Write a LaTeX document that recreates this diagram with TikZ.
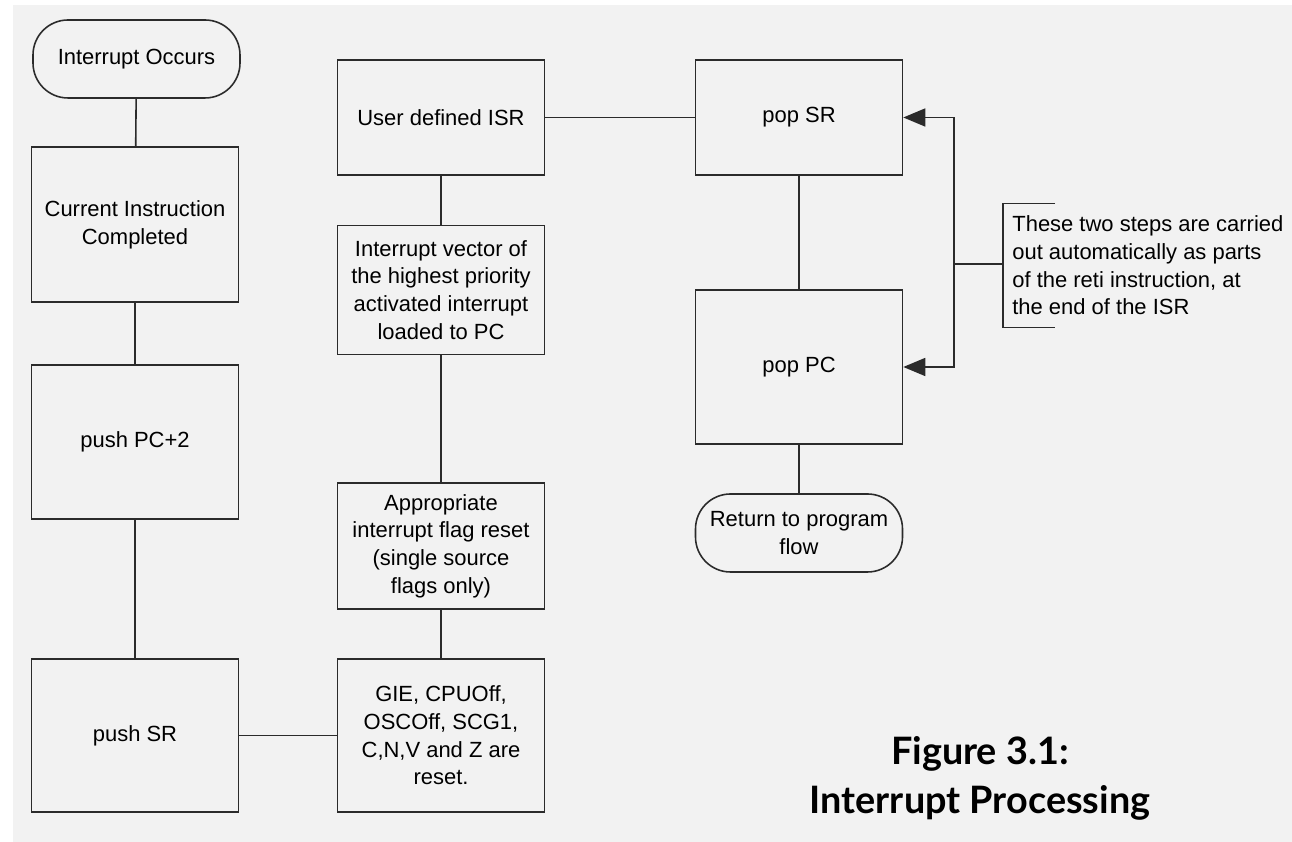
\documentclass[tikz,border=0pt]{standalone}
\usepackage{fontspec}
\setmainfont{Liberation Sans}
\newfontfamily\capfont{Lato}
\usepackage{tikz}
\usetikzlibrary{arrows.meta}
\usepackage{xcolor}
\definecolor{paper}{HTML}{F2F2F2}
\definecolor{ink}{HTML}{2B2B2B}

\begin{document}
\begin{tikzpicture}[>={Triangle[length=4.4mm,width=3.6mm]},line join=miter,
  font=\fontsize{12.5}{15.8}\selectfont,
  box/.style={draw=ink,line width=0.9pt,align=center,minimum width=4.14cm,inner sep=2pt},
  term/.style={box,rounded corners=0.7cm,minimum height=1.56cm},
  link/.style={draw=ink,line width=0.9pt}]
\useasboundingbox (0,0) rectangle (25.84,16.84);
\fill[paper] (0.26,0) rectangle (25.84,16.74);
% left column
\node[term] (occurs) at (2.73,15.66) {Interrupt Occurs};
\node[box,minimum height=3.10cm] (current) at (2.70,12.35) {Current Instruction\\Completed};
\node[box,minimum height=3.08cm] (pushpc) at (2.70,8.00) {push PC+2};
\node[box,minimum height=3.06cm] (pushsr) at (2.70,2.13) {push SR};
% middle column
\node[box,minimum height=2.30cm] (isr) at (8.82,14.49) {User defined ISR};
\node[box,minimum height=2.58cm] (vector) at (8.82,11.04) {Interrupt vector of\\the highest priority\\activated interrupt\\loaded to PC};
\node[box,minimum height=2.52cm] (flag) at (8.82,5.92) {Appropriate\\interrupt flag reset\\(single source\\flags only)};
\node[box,minimum height=3.06cm] (reset) at (8.82,2.13) {GIE, CPUOff,\\OSCOff, SCG1,\\C,N,V and Z are\\reset.};
% right column
\node[box,minimum height=2.30cm] (popsr) at (15.98,14.49) {pop SR};
\node[box,minimum height=3.08cm] (poppc) at (15.98,9.50) {pop PC};
\node[term] (return) at (15.98,6.18) {Return to program\\flow};
% note on the two pops
\coordinate (fork) at (19.08,11.56);
\node[anchor=west,align=left,minimum height=2.46cm,inner xsep=0.18cm,inner ysep=0pt] (note) at (20.06,11.53)
  {These two steps are carried\\out automatically as parts\\of the reti instruction, at\\the end of the ISR};
\draw[link] ([xshift=1.04cm]note.north west) -- (note.north west) -- (note.south west) -- ([xshift=1.04cm]note.south west);
% connectors
\draw[link] (occurs) -- (current);
\draw[link] (current) -- (pushpc);
\draw[link] (pushpc) -- (pushsr);
\draw[link] (pushsr) -- (reset);
\draw[link] (reset) -- (flag);
\draw[link] (flag) -- (vector);
\draw[link] (vector) -- (isr);
\draw[link] (isr) -- (popsr);
\draw[link] (popsr) -- (poppc);
\draw[link] (poppc) -- (return);
\draw[link,->] (fork) |- (popsr.east);
\draw[link,->] (fork) |- (poppc.east);
\draw[link] (fork) -- (fork -| note.west);
% caption
\node[align=center,font=\capfont\bfseries\fontsize{21.5}{27.9}\selectfont] (caption) at (19.60,1.28) {Figure 3.1:\\Interrupt Processing};
\end{tikzpicture}
\end{document}
